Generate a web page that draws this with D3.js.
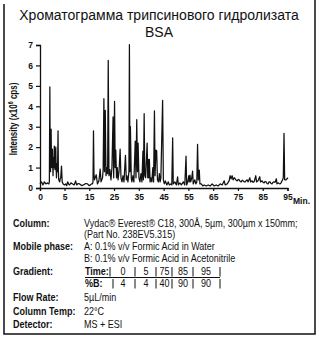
<!DOCTYPE html>
<html><head><meta charset="utf-8">
<script src="https://cdn.jsdelivr.net/npm/d3@7"></script>
<style>html,body{margin:0;padding:0;background:#fff;}svg{display:block;}</style>
</head><body>
<svg id="c" width="319" height="339"></svg>
<script>
// ---------- DATA ----------
const titleLines = ["Хроматограмма трипсинового гидролизата", "BSA"];
const yLabel = "Intensity (x10";
const xTicks = [0, 5, 15, 25, 35, 45, 55, 65, 75, 85, 95];
const yTicks = [0, 1, 2, 3, 4, 5, 6, 7];
// retention time (min) and intensity (x10^6 cps)
const retentionTime = [
 0, 0.3, 0.6, 0.9, 1.2, 1.5, 1.81, 1.91, 2.01, 2.08, 2.15, 2.27, 2.34, 2.41, 2.48, 2.54, 2.6, 2.66, 2.72, 2.78, 2.85, 2.92, 2.99, 3.06, 3.14, 3.22, 3.29, 3.36, 3.42, 3.48, 3.58, 3.68, 3.75, 3.82, 4.02, 4.12, 4.23, 4.39, 4.53, 4.73, 5,
 5.46, 5.9, 6.27, 6.7, 7.07, 7.6, 8.28, 8.9, 9.49, 9.89, 10.5, 11.1, 11.9, 12.7, 13.5, 14.3, 14.9, 15.5, 15.9, 16.3, 16.5, 16.7, 16.9, 17.1, 17.8, 18.3, 18.9, 19.4, 19.75, 20.35, 20.6, 20.9, 21.15, 21.45, 21.75, 22.15, 22.4, 22.65, 22.95, 23.35, 23.75, 24.15, 24.6, 24.85, 25.2, 25.45, 25.7, 26.0, 26.3, 26.6, 27.0, 27.45, 27.8, 28.2, 28.6, 29.0, 29.6, 29.95, 30.2, 30.6, 31.0, 31.2, 31.4, 31.6, 31.95, 32.2, 32.6, 33.0, 33.55, 33.85, 34.15, 34.45, 34.7, 35.05, 35.45, 35.85, 36.25, 36.65, 36.85, 37.15, 37.4, 37.75, 38.35, 38.6, 38.85, 39.05, 39.25, 39.55, 39.85, 40.25, 40.65, 40.95, 41.3, 41.55, 41.9, 42.2, 42.5, 42.9, 43.3, 43.6, 43.9, 44.4, 44.6, 44.9, 45.3, 45.7, 46.3, 46.9, 47.3, 47.9, 48.3, 48.65, 48.9, 49.55, 50.15, 50.65, 50.95, 51.55, 52.15, 52.95, 53.55, 54.05, 54.3, 54.75, 55.15, 55.35, 55.65, 55.95, 56.35, 56.7, 56.95, 57.6, 58.0, 58.4, 58.7, 59.0, 59.4, 59.65, 60.2, 60.8, 61.4, 62.2, 63.0, 63.8, 64.6, 65.4, 66.2, 67.0, 67.85, 68.65, 69.45, 69.85, 70.65, 71.45, 71.85, 72.25, 72.65, 73.05, 73.5, 73.9, 74.3, 74.7, 75.1, 75.5, 75.9, 76.3, 76.7, 77.1, 77.5, 77.9, 78.3, 78.7, 79.1, 79.8, 80.1, 80.7, 81.1, 81.5, 82.2, 82.5, 83.1, 83.8, 84.1, 84.75, 85.15, 85.55, 85.95, 86.35, 86.75, 87.15, 87.55, 87.95, 88.35, 88.75, 89.15, 89.55, 90.0, 90.5, 90.75, 91.2, 91.6, 92.0, 92.4, 93.0, 93.3, 93.6, 93.85, 94.4, 94.8, 95.2
];
const intensity = [
 0.2, 0.3, 0.15, 0.3, 0.2, 0.25, 0.2, 0.3, 4.95, 1.2, 0.8, 2.88, 1.3, 1.0, 1.7, 1.9, 1.1, 0.6, 1.3, 1.5, 1.0, 2.05, 1.4, 0.9, 1.6, 2.0, 1.0, 0.5, 0.9, 1.2, 0.8, 2.8, 0.9, 0.4, 0.3, 0.45, 0.5, 1.07, 0.3, 0.2, 0.15,
 0.2, 0.12, 0.3, 0.18, 0.15, 0.25, 0.2, 0.15, 0.35, 0.15, 0.22, 0.2, 0.12, 0.15, 0.22, 0.2, 0.12, 0.15, 0.2, 0.2, 0.3, 2.8, 0.7, 0.4, 0.65, 0.2, 0.35, 0.93, 0.3, 0.5, 0.9, 4.37, 0.8, 3.8, 0.6, 1.0, 0.7, 6.25, 0.6, 0.9, 0.4, 1.0, 3.48, 0.5, 4.24, 1.0, 1.85, 0.5, 1.0, 0.4, 0.8, 1.9, 0.5, 0.3, 0.6, 0.3, 1.6, 0.4, 0.6, 0.3, 0.8, 7.02, 0.8, 3.0, 0.5, 0.3, 0.6, 0.3, 2.3, 0.5, 3.35, 0.8, 2.2, 0.5, 0.3, 0.7, 0.3, 1.8, 0.4, 3.64, 0.6, 0.5, 2.2, 0.5, 1.4, 0.5, 1.4, 0.3, 0.5, 0.3, 1.0, 0.3, 3.77, 0.6, 1.85, 1.82, 0.4, 0.3, 0.7, 0.3, 0.5, 3.23, 4.29, 0.4, 0.2, 0.35, 0.15, 0.3, 0.15, 0.2, 0.15, 2.45, 0.2, 0.3, 0.15, 0.55, 0.15, 0.25, 0.15, 0.3, 0.15, 1.56, 0.15, 0.3, 0.6, 0.3, 0.63, 0.3, 0.5, 0.83, 0.2, 0.4, 0.2, 0.3, 2.14, 0.4, 0.88, 0.2, 0.2, 0.1, 0.15, 0.1, 0.15, 0.1, 0.2, 0.1, 0.15, 0.1, 0.2, 0.15, 0.35, 0.15, 0.2, 0.35, 0.6, 0.45, 0.6, 0.4, 0.5, 0.45, 0.38, 0.35, 0.42, 0.4, 0.32, 0.3, 0.38, 0.35, 0.3, 0.3, 0.36, 0.4, 0.3, 0.5, 0.3, 0.35, 0.28, 0.3, 0.6, 0.3, 0.35, 0.55, 0.3, 0.35, 0.28, 0.25, 0.32, 0.3, 0.22, 0.2, 0.3, 0.3, 0.22, 0.2, 0.28, 0.3, 0.28, 0.45, 0.2, 0.25, 0.22, 0.2, 0.25, 0.4, 0.5, 2.67, 0.4, 0.4, 0.45, 0.5
];
const infoLabels = ["Column:", "Mobile phase:", "Gradient:", "Flow Rate:", "Column Temp:", "Detector:"];
const columnText = ["Vydac\u00AE Everest\u00AE C18, 300\u00C5, 5\u00B5m, 300\u00B5m x 150mm;", "(Part No. 238EV5.315)"];
const mobileText = ["A: 0.1%  v/v Formic Acid in Water", "B: 0.1%  v/v Formic Acid in Acetonitrile"];
const gradTime = [0, 5, 75, 85, 95];
const gradB = [4, 4, 40, 90, 90];
const flowText = "5\u00B5L/min";
const tempText = "22\u00B0C";
const detText = "MS + ESI";

// ---------- LAYOUT ----------
const svg = d3.select("#c");
const ink = "#111";
const x = d3.scaleLinear().domain([0, 5, 95]).range([40, 64.5, 287.5]);
const y = d3.scaleLinear().domain([0, 7]).range([188, 45]);

// frame
svg.append("path")
  .attr("d", "M4,4 V334 H315 V0")
  .attr("fill", "none").attr("stroke", ink).attr("stroke-width", 1.5);

// title
svg.append("text").attr("x", 159).attr("y", 20).attr("text-anchor", "middle")
  .attr("font-family", "Liberation Sans, Arial, sans-serif").attr("font-size", 14)
  .attr("fill", ink).text(titleLines[0]);
svg.append("text").attr("x", 159).attr("y", 37).attr("text-anchor", "middle")
  .attr("font-family", "Liberation Sans, Arial, sans-serif").attr("font-size", 14)
  .attr("fill", ink).text(titleLines[1]);

// trace
const line = d3.line().x((d, i) => x(retentionTime[i])).y(d => y(d));
svg.append("path").datum(intensity).attr("d", line)
  .attr("fill", "none").attr("stroke", ink).attr("stroke-width", 1.25)
  .attr("stroke-linejoin", "round");

// axes
const tickFont = "Liberation Sans, Arial, sans-serif";
const yAxis = svg.append("g").attr("transform", "translate(40,0)")
  .call(d3.axisLeft(y).tickValues(yTicks).tickSize(4).tickPadding(3).tickFormat(d3.format("d")));
const xAxis = svg.append("g").attr("transform", "translate(0,188)")
  .call(d3.axisBottom(x).tickValues(xTicks).tickSize(3).tickPadding(3).tickFormat(d3.format("d")));
[yAxis, xAxis].forEach(a => {
  a.select(".domain").attr("stroke", ink).attr("stroke-width", 1.3);
  a.selectAll(".tick line").attr("stroke", ink).attr("stroke-width", 1.2);
  a.selectAll(".tick text").attr("font-family", tickFont).attr("font-size", 8.5)
    .attr("font-weight", "bold").attr("fill", ink);
});
svg.append("text").attr("x", 293).attr("y", 203.5)
  .attr("font-family", tickFont).attr("font-size", 8.5).attr("font-weight", "bold")
  .attr("fill", ink).text("Min.");

// y label
const yl = svg.append("text").attr("transform", "translate(16.5,119) rotate(-90) scale(0.8,1)")
  .attr("text-anchor", "middle").attr("font-family", tickFont).attr("font-size", 10)
  .attr("font-weight", "bold").attr("fill", ink);
yl.append("tspan").text(yLabel);
yl.append("tspan").attr("dy", -3.5).attr("font-size", 6.5).text("6");
yl.append("tspan").attr("dy", 3.5).text(" cps)");

// info block
const sx = 0.82;
function txt(px, py, s, bold, anchor) {
  return svg.append("text").attr("transform", `translate(${px},${py}) scale(${sx},1)`)
    .attr("font-family", "Liberation Sans, Arial, sans-serif").attr("font-size", 11)
    .attr("font-weight", bold ? "bold" : "normal").attr("text-anchor", anchor || "start")
    .attr("fill", ink).text(s);
}
const lx = 13, vx = 84;
const rowY = {col: 226.5, part: 238, mob: 249.5, mobB: 262, time: 275, pb: 287, flow: 301, temp: 315, det: 328};
txt(lx, rowY.col, infoLabels[0], true);
txt(vx, rowY.col, columnText[0], false);
txt(vx, rowY.part, columnText[1], false);
txt(lx, rowY.mob, infoLabels[1], true);
txt(vx, rowY.mob, mobileText[0], false);
txt(vx, rowY.mobB, mobileText[1], false);
txt(lx, rowY.time, infoLabels[2], true);
txt(lx, rowY.flow, infoLabels[3], true);
txt(vx, rowY.flow, flowText, false);
txt(lx, rowY.temp, infoLabels[4], true);
txt(vx, rowY.temp, tempText, false);
txt(lx, rowY.det, infoLabels[5], true);
txt(vx, rowY.det, detText, false);

// gradient table
const cellCenters = [123, 146, 164.5, 183, 206];
const seps = [110, 135, 156, 172, 193, 220];
const sepsB = [113, 135, 156, 172, 193, 220];
txt(vx + 1, rowY.time, "Time:", true);
txt(vx + 1, rowY.pb, "%B:", true);
gradTime.forEach((v, i) => txt(cellCenters[i], rowY.time, String(v), false, "middle"));
gradB.forEach((v, i) => txt(cellCenters[i], rowY.pb, String(v), false, "middle"));
svg.append("line").attr("x1", vx + 1).attr("x2", seps[seps.length - 1])
  .attr("y1", rowY.time + 2.5).attr("y2", rowY.time + 2.5)
  .attr("stroke", ink).attr("stroke-width", 1);
seps.forEach(s => {
  svg.append("line").attr("x1", s).attr("x2", s).attr("y1", rowY.time - 8).attr("y2", rowY.time + 1.5)
    .attr("stroke", ink).attr("stroke-width", 1);
});
sepsB.forEach(s => {
  svg.append("line").attr("x1", s).attr("x2", s).attr("y1", rowY.pb - 8).attr("y2", rowY.pb + 1.5)
    .attr("stroke", ink).attr("stroke-width", 1);
});
</script>
</body></html>
